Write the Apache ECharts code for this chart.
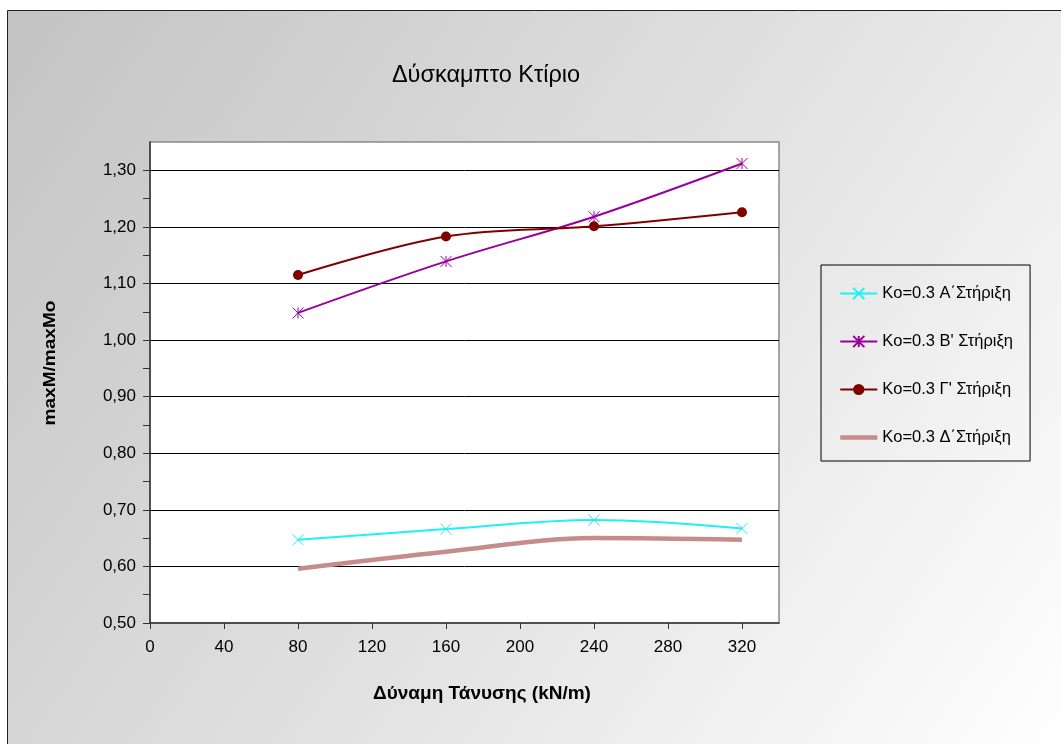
<!DOCTYPE html>
<html>
<head>
<meta charset="utf-8">
<script src="https://cdn.jsdelivr.net/npm/echarts@6/dist/echarts.min.js"></script>
<style>
  html, body { margin: 0; padding: 0; background: #fff; }
  #chart { width: 1061px; height: 744px; }
</style>
</head>
<body>
<div id="chart"></div>
<script>
// Tension force (kN/m) and the maxM/maxMo ratio for each support level
const forces = [80, 160, 240, 320];
const supportA = [0.647, 0.666, 0.682, 0.667];
const supportB = [1.048, 1.139, 1.218, 1.312];
const supportC = [1.115, 1.183, 1.201, 1.226];
const supportD = [0.596, 0.626, 0.650, 0.647];

const seriesNames = [
  'Ko=0.3 Α΄Στήριξη',
  'Ko=0.3 Β\' Στήριξη',
  'Ko=0.3 Γ\' Στήριξη',
  'Ko=0.3 Δ΄Στήριξη'
];

const xTicks = [0, 40, 80, 120, 160, 200, 240, 280, 320];
const yTicks = [0.50, 0.55, 0.60, 0.65, 0.70, 0.75, 0.80, 0.85, 0.90, 0.95,
                1.00, 1.05, 1.10, 1.15, 1.20, 1.25, 1.30, 1.35];

const chartTitle = 'Δύσκαμπτο Κτίριο';
const xTitle = 'Δύναμη Τάνυσης (kN/m)';
const yTitle = 'maxM/maxMo';

const FONT = '"Liberation Sans", Arial, sans-serif';
const pairs = vals => forces.map((f, i) => [f, vals[i]]);

const crossPath = 'path://M0,0L10,10M10,0L0,10';
const starPath = 'path://M0,0L10,10M10,0L0,10M5,0L5,10';

const chart = echarts.init(document.getElementById('chart'), null, { renderer: 'canvas' });

chart.setOption({
  backgroundColor: '#ffffff',
  animation: false,
  graphic: [
    {
      type: 'rect',
      z: -100,
      shape: { x: 7.5, y: 10.5, width: 1060, height: 740 },
      style: {
        fill: {
          type: 'linear', x: 0, y: 0, x2: 1, y2: 1,
          colorStops: [
            { offset: 0, color: '#c3c3c3' },
            { offset: 0.5, color: '#e0e0e0' },
            { offset: 1, color: '#ffffff' }
          ]
        },
        stroke: '#222',
        lineWidth: 1
      }
    },
    {
      type: 'text',
      x: 486, y: 76,
      style: {
        text: chartTitle, font: '23.5px ' + FONT, fill: '#000',
        align: 'center', verticalAlign: 'middle'
      }
    },
    {
      type: 'text',
      x: 482, y: 694,
      style: {
        text: xTitle, font: 'bold 19px ' + FONT, fill: '#000',
        align: 'center', verticalAlign: 'middle'
      }
    },
    {
      type: 'text',
      x: 50, y: 363,
      rotation: Math.PI / 2,
      scaleX: 1.12,
      style: {
        text: yTitle, font: 'bold 17px ' + FONT, fill: '#000',
        align: 'center', verticalAlign: 'middle'
      }
    }
  ],
  grid: {
    left: 150, right: 282, top: 142, bottom: 121,
    show: true,
    backgroundColor: '#ffffff',
    borderColor: '#8a8a8a',
    borderWidth: 1.5
  },
  legend: {
    orient: 'vertical',
    left: 821, top: 265,
    padding: [20, 17, 15, 17],
    itemWidth: 37, itemHeight: 14, itemGap: 31,
    borderColor: '#000', borderWidth: 1,
    textStyle: { fontFamily: FONT, fontSize: 16.5, color: '#000' },
    data: [
      seriesNames[0],
      seriesNames[1],
      seriesNames[2],
      {
        name: seriesNames[3],
        itemStyle: { color: 'transparent', borderColor: 'transparent', opacity: 0 },
        lineStyle: { width: 4.5, color: '#c68b8b' }
      }
    ]
  },
  xAxis: {
    type: 'value',
    min: 0, max: 340, interval: 40,
    axisLine: { lineStyle: { color: '#333', width: 1.5 } },
    axisTick: { show: true, length: 6, customValues: xTicks, lineStyle: { color: '#333' } },
    axisLabel: {
      customValues: xTicks,
      margin: 16,
      fontFamily: FONT, fontSize: 17, color: '#000'
    },
    splitLine: { show: false }
  },
  yAxis: [
    {
      type: 'value',
      min: 0.5, max: 1.35, interval: 0.1,
      axisLine: { show: true, lineStyle: { color: '#333', width: 1.5 } },
      axisTick: { show: true, length: 7, customValues: yTicks, lineStyle: { color: '#333' } },
      axisLabel: {
        showMaxLabel: false,
        margin: 14,
        fontFamily: FONT, fontSize: 17, color: '#000',
        formatter: v => v.toFixed(2).replace('.', ',')
      },
      splitLine: { show: false }
    },
    {
      // gridlines at every 0.10 only
      type: 'value',
      min: 0.5, max: 1.35, interval: 0.1,
      axisLine: { show: false },
      axisTick: { show: false },
      axisLabel: { show: false },
      splitLine: {
        show: true, showMinLine: false, showMaxLine: false,
        lineStyle: { color: '#000', width: 1 }
      }
    }
  ],
  series: [
    {
      name: seriesNames[0], type: 'line', data: pairs(supportA),
      smooth: 0.35,
      symbol: crossPath, symbolSize: 11,
      lineStyle: { color: '#1ff0f4', width: 2 },
      itemStyle: { color: '#1ff0f4', borderColor: '#1ff0f4', borderWidth: 1 }
    },
    {
      name: seriesNames[1], type: 'line', data: pairs(supportB),
      smooth: 0.35,
      symbol: starPath, symbolSize: 11,
      lineStyle: { color: '#990099', width: 2 },
      itemStyle: { color: '#990099', borderColor: '#990099', borderWidth: 1 }
    },
    {
      name: seriesNames[2], type: 'line', data: pairs(supportC),
      smooth: 0.35,
      symbol: 'circle', symbolSize: 10,
      lineStyle: { color: '#800000', width: 2 },
      itemStyle: { color: '#800000' }
    },
    {
      name: seriesNames[3], type: 'line', data: pairs(supportD),
      smooth: 0.35,
      symbol: 'none',
      lineStyle: { color: '#c68b8b', width: 4.5 },
      itemStyle: { color: '#c68b8b' }
    }
  ]
});
</script>
</body>
</html>
